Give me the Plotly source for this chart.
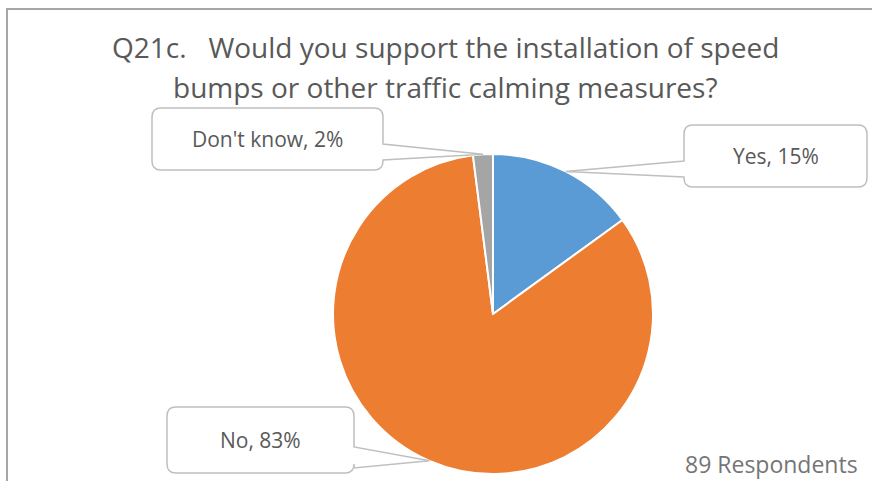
import math
import plotly.graph_objects as go

# data
labels = ["Yes", "No", "Don't know"]
values = [15, 83, 2]
colors = ["#5B9BD5", "#ED7D31", "#A5A5A5"]
title_lines = ["Q21c.   Would you support the installation of speed",
               "bumps or other traffic calming measures?"]
note = "89 Respondents"

W, H = 872, 481
CX, CY, R = 493, 314, 160


def px(x):
    return x / W


def py(y):
    return 1 - y / H


fig = go.Figure()
fig.add_trace(go.Pie(
    labels=labels, values=values, sort=False, direction="clockwise", rotation=0,
    marker=dict(colors=colors, line=dict(color="white", width=2)),
    textinfo="none", hoverinfo="label+percent", showlegend=False,
    domain=dict(x=[px(CX - R), px(CX + R)], y=[py(CY + R), py(CY - R)]),
))


# slice mid angle -> point on the edge
def edge_point(i):
    tot = sum(values)
    mid = (sum(values[:i]) + values[i] / 2) / tot * 2 * math.pi
    return CX + R * math.sin(mid), CY - R * math.cos(mid)


def callout(box, side, t1, t2, tip, rr=9):
    x0, y0, x1, y1 = box
    P = lambda x, y: f"{px(x):.5f},{py(y):.5f}"
    d = f"M {P(x0 + rr, y0)} L {P(x1 - rr, y0)} Q {P(x1, y0)} {P(x1, y0 + rr)} "
    if side == "right":
        d += f"L {P(x1, t1)} L {P(*tip)} L {P(x1, t2)} "
    d += f"L {P(x1, y1 - rr)} Q {P(x1, y1)} {P(x1 - rr, y1)} "
    d += f"L {P(x0 + rr, y1)} Q {P(x0, y1)} {P(x0, y1 - rr)} "
    if side == "left":
        d += f"L {P(x0, t2)} L {P(*tip)} L {P(x0, t1)} "
    d += f"L {P(x0, y0 + rr)} Q {P(x0, y0)} {P(x0 + rr, y0)} Z"
    return dict(type="path", xref="paper", yref="paper", path=d,
                fillcolor="white", line=dict(color="#BFBFBF", width=1.5))


# box layout for each label: (box, side, tail y1, tail y2)
boxes = [
    ((684, 125, 867, 187), "left", 161, 177),
    ((167, 407, 354, 473), "right", 447, 468),
    ((152, 108, 383, 170), "right", 144, 160),
]

shapes = [dict(type="rect", xref="paper", yref="paper",
               x0=px(7), y0=py(H + 20), x1=px(W + 20), y1=py(9),
               line=dict(color="#A6A6A6", width=2))]
annotations = []
for i, (box, side, t1, t2) in enumerate(boxes):
    shapes.append(callout(box, side, t1, t2, edge_point(i)))
    annotations.append(dict(
        x=px((box[0] + box[2]) / 2), y=py((box[1] + box[3]) / 2),
        xref="paper", yref="paper", showarrow=False,
        xanchor="center", yanchor="middle",
        text=f"{labels[i]}, {values[i]}%",
        font=dict(family="Open Sans", size=21, color="#595959")))

for line, yc in zip(title_lines, [47, 87]):
    annotations.append(dict(x=px(445), y=py(yc), xref="paper", yref="paper", showarrow=False,
                            xanchor="center", yanchor="middle", text=line,
                            font=dict(family="Open Sans", size=28, color="#595959")))
annotations.append(dict(x=px(860), y=py(464), xref="paper", yref="paper", showarrow=False,
                        xanchor="right", yanchor="middle", text=note,
                        font=dict(family="Open Sans", size=23, color="#757575")))

fig.update_layout(width=W, height=H, margin=dict(l=0, r=0, t=0, b=0),
                  paper_bgcolor="white", plot_bgcolor="white",
                  shapes=shapes, annotations=annotations)

fig.write_html("out.html", config={"displayModeBar": False},
               post_script="document.body.style.margin='0';")
